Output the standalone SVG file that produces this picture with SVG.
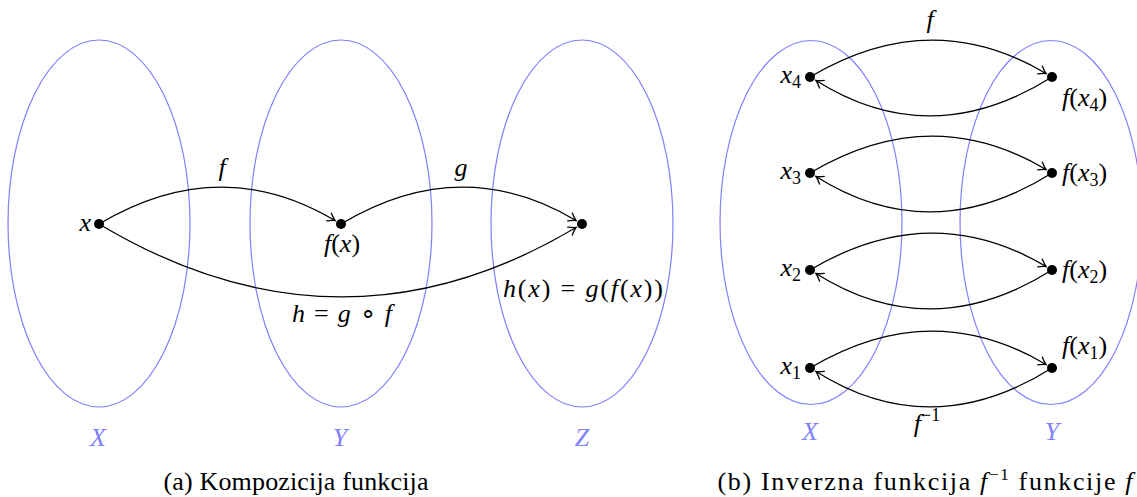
<svg xmlns="http://www.w3.org/2000/svg" width="1137" height="497" viewBox="0 0 1137 497">
<defs>
<marker id="ah" markerUnits="userSpaceOnUse" markerWidth="14" markerHeight="12" refX="0" refY="0" viewBox="-10 -6 12 12" orient="auto">
<path d="M-7,-4.5 Q-2.5,-1 0,0 Q-2.5,1 -7,4.5" fill="none" stroke="#000" stroke-width="1.3" stroke-linecap="round"/>
</marker>
</defs>
<g id="sets">
<g fill="none" stroke="#7f7fff" stroke-width="1.2">
<ellipse id="setX" cx="99" cy="223.5" rx="91" ry="183.5"/>
<ellipse id="setY" cx="341" cy="223.5" rx="91" ry="183.5"/>
<ellipse id="setZ" cx="582" cy="223.5" rx="91" ry="183.5"/>
<ellipse id="setX2" cx="811" cy="222.5" rx="91" ry="182"/>
<ellipse id="setY2" cx="1051" cy="222.5" rx="91" ry="182"/>
</g>
<g fill="#8080ff" font-style="italic" font-size="26" text-anchor="middle">
<text font-family="Liberation Serif" x="98" y="446">X</text>
<text font-family="Liberation Serif" x="340" y="446">Y</text>
<text font-family="Liberation Serif" x="582" y="446">Z</text>
<text font-family="Liberation Serif" x="810" y="440">X</text>
<text font-family="Liberation Serif" x="1052" y="440">Y</text>
</g>
</g>
<g id="connectors">
<g fill="none" stroke="#000" stroke-width="1.3" marker-end="url(#ah)">
<path d="M99,224 Q220,152 335,220.5"/>
<path d="M341,224 Q461,152 576,220.5"/>
<path d="M99,224 Q340,368 576,227.5"/>
<path d="M810,77 Q931,5 1046,73.5"/>
<path d="M1052,77 Q931,153 816,80.5"/>
<path d="M810,173 Q931,101 1046,169.5"/>
<path d="M1052,173 Q931,249 816,176.5"/>
<path d="M810,270 Q931,198 1046,266.5"/>
<path d="M1052,270 Q931,346 816,273.5"/>
<path d="M810,368 Q931,296 1046,364.5"/>
<path d="M1052,368 Q931,444 816,371.5"/>
</g>
<g font-style="italic" font-size="26" fill="#000" text-anchor="middle">
<text font-family="Liberation Serif" x="222" y="176">f</text>
<text font-family="Liberation Serif" x="461" y="176">g</text>
<text font-family="Liberation Serif" x="342" y="322" textLength="100">h <tspan font-style="normal">=</tspan> g <tspan font-style="normal">∘</tspan> f</text>
<text font-family="Liberation Serif" x="930" y="28">f</text>
<text font-family="Liberation Serif" x="927" y="432">f<tspan font-style="normal" font-size="18" dy="-11">−1</tspan></text>
</g>
</g>
<g font-style="italic" font-size="26" fill="#000">
<g id="n-x"><circle cx="99" cy="224" r="5"/><text font-family="Liberation Serif" x="91" y="231" text-anchor="end">x</text></g>
<g id="n-fx"><circle cx="341" cy="224" r="5"/><text font-family="Liberation Serif" x="342" y="252" text-anchor="middle">f<tspan font-style="normal">(</tspan>x<tspan font-style="normal">)</tspan></text></g>
<g id="n-gfx"><circle cx="582" cy="224" r="5"/><text font-family="Liberation Serif" x="583" y="297" text-anchor="middle" textLength="160">h<tspan font-style="normal">(</tspan>x<tspan font-style="normal">) = </tspan>g<tspan font-style="normal">(</tspan>f<tspan font-style="normal">(</tspan>x<tspan font-style="normal">))</tspan></text></g>
<g id="n-x4"><circle cx="810" cy="77" r="5"/><text font-family="Liberation Serif" x="801" y="83" text-anchor="end">x<tspan font-style="normal" font-size="18" dy="5">4</tspan></text></g>
<g id="n-fx4"><circle cx="1052" cy="77" r="5"/><text font-family="Liberation Serif" x="1062" y="106">f<tspan font-style="normal">(</tspan>x<tspan font-style="normal" font-size="18" dy="5">4</tspan><tspan font-style="normal" dy="-5">)</tspan></text></g>
<g id="n-x3"><circle cx="810" cy="173" r="5"/><text font-family="Liberation Serif" x="801" y="179" text-anchor="end">x<tspan font-style="normal" font-size="18" dy="5">3</tspan></text></g>
<g id="n-fx3"><circle cx="1052" cy="173" r="5"/><text font-family="Liberation Serif" x="1062" y="181">f<tspan font-style="normal">(</tspan>x<tspan font-style="normal" font-size="18" dy="5">3</tspan><tspan font-style="normal" dy="-5">)</tspan></text></g>
<g id="n-x2"><circle cx="810" cy="270" r="5"/><text font-family="Liberation Serif" x="801" y="276" text-anchor="end">x<tspan font-style="normal" font-size="18" dy="5">2</tspan></text></g>
<g id="n-fx2"><circle cx="1052" cy="270" r="5"/><text font-family="Liberation Serif" x="1062" y="278">f<tspan font-style="normal">(</tspan>x<tspan font-style="normal" font-size="18" dy="5">2</tspan><tspan font-style="normal" dy="-5">)</tspan></text></g>
<g id="n-x1"><circle cx="810" cy="368" r="5"/><text font-family="Liberation Serif" x="801" y="374" text-anchor="end">x<tspan font-style="normal" font-size="18" dy="5">1</tspan></text></g>
<g id="n-fx1"><circle cx="1052" cy="368" r="5"/><text font-family="Liberation Serif" x="1062" y="354">f<tspan font-style="normal">(</tspan>x<tspan font-style="normal" font-size="18" dy="5">1</tspan><tspan font-style="normal" dy="-5">)</tspan></text></g>
</g>
<g id="captions" font-size="26" fill="#000" text-anchor="middle">
<text font-family="Liberation Serif" x="296" y="490" textLength="265">(a) Kompozicija funkcija</text>
<text font-family="Liberation Serif" x="925" y="490" textLength="415">(b) Inverzna funkcija <tspan font-style="italic">f</tspan><tspan font-size="17" dy="-10">−1</tspan><tspan dy="10"> funkcije </tspan><tspan font-style="italic">f</tspan></text>
</g>
</svg>
